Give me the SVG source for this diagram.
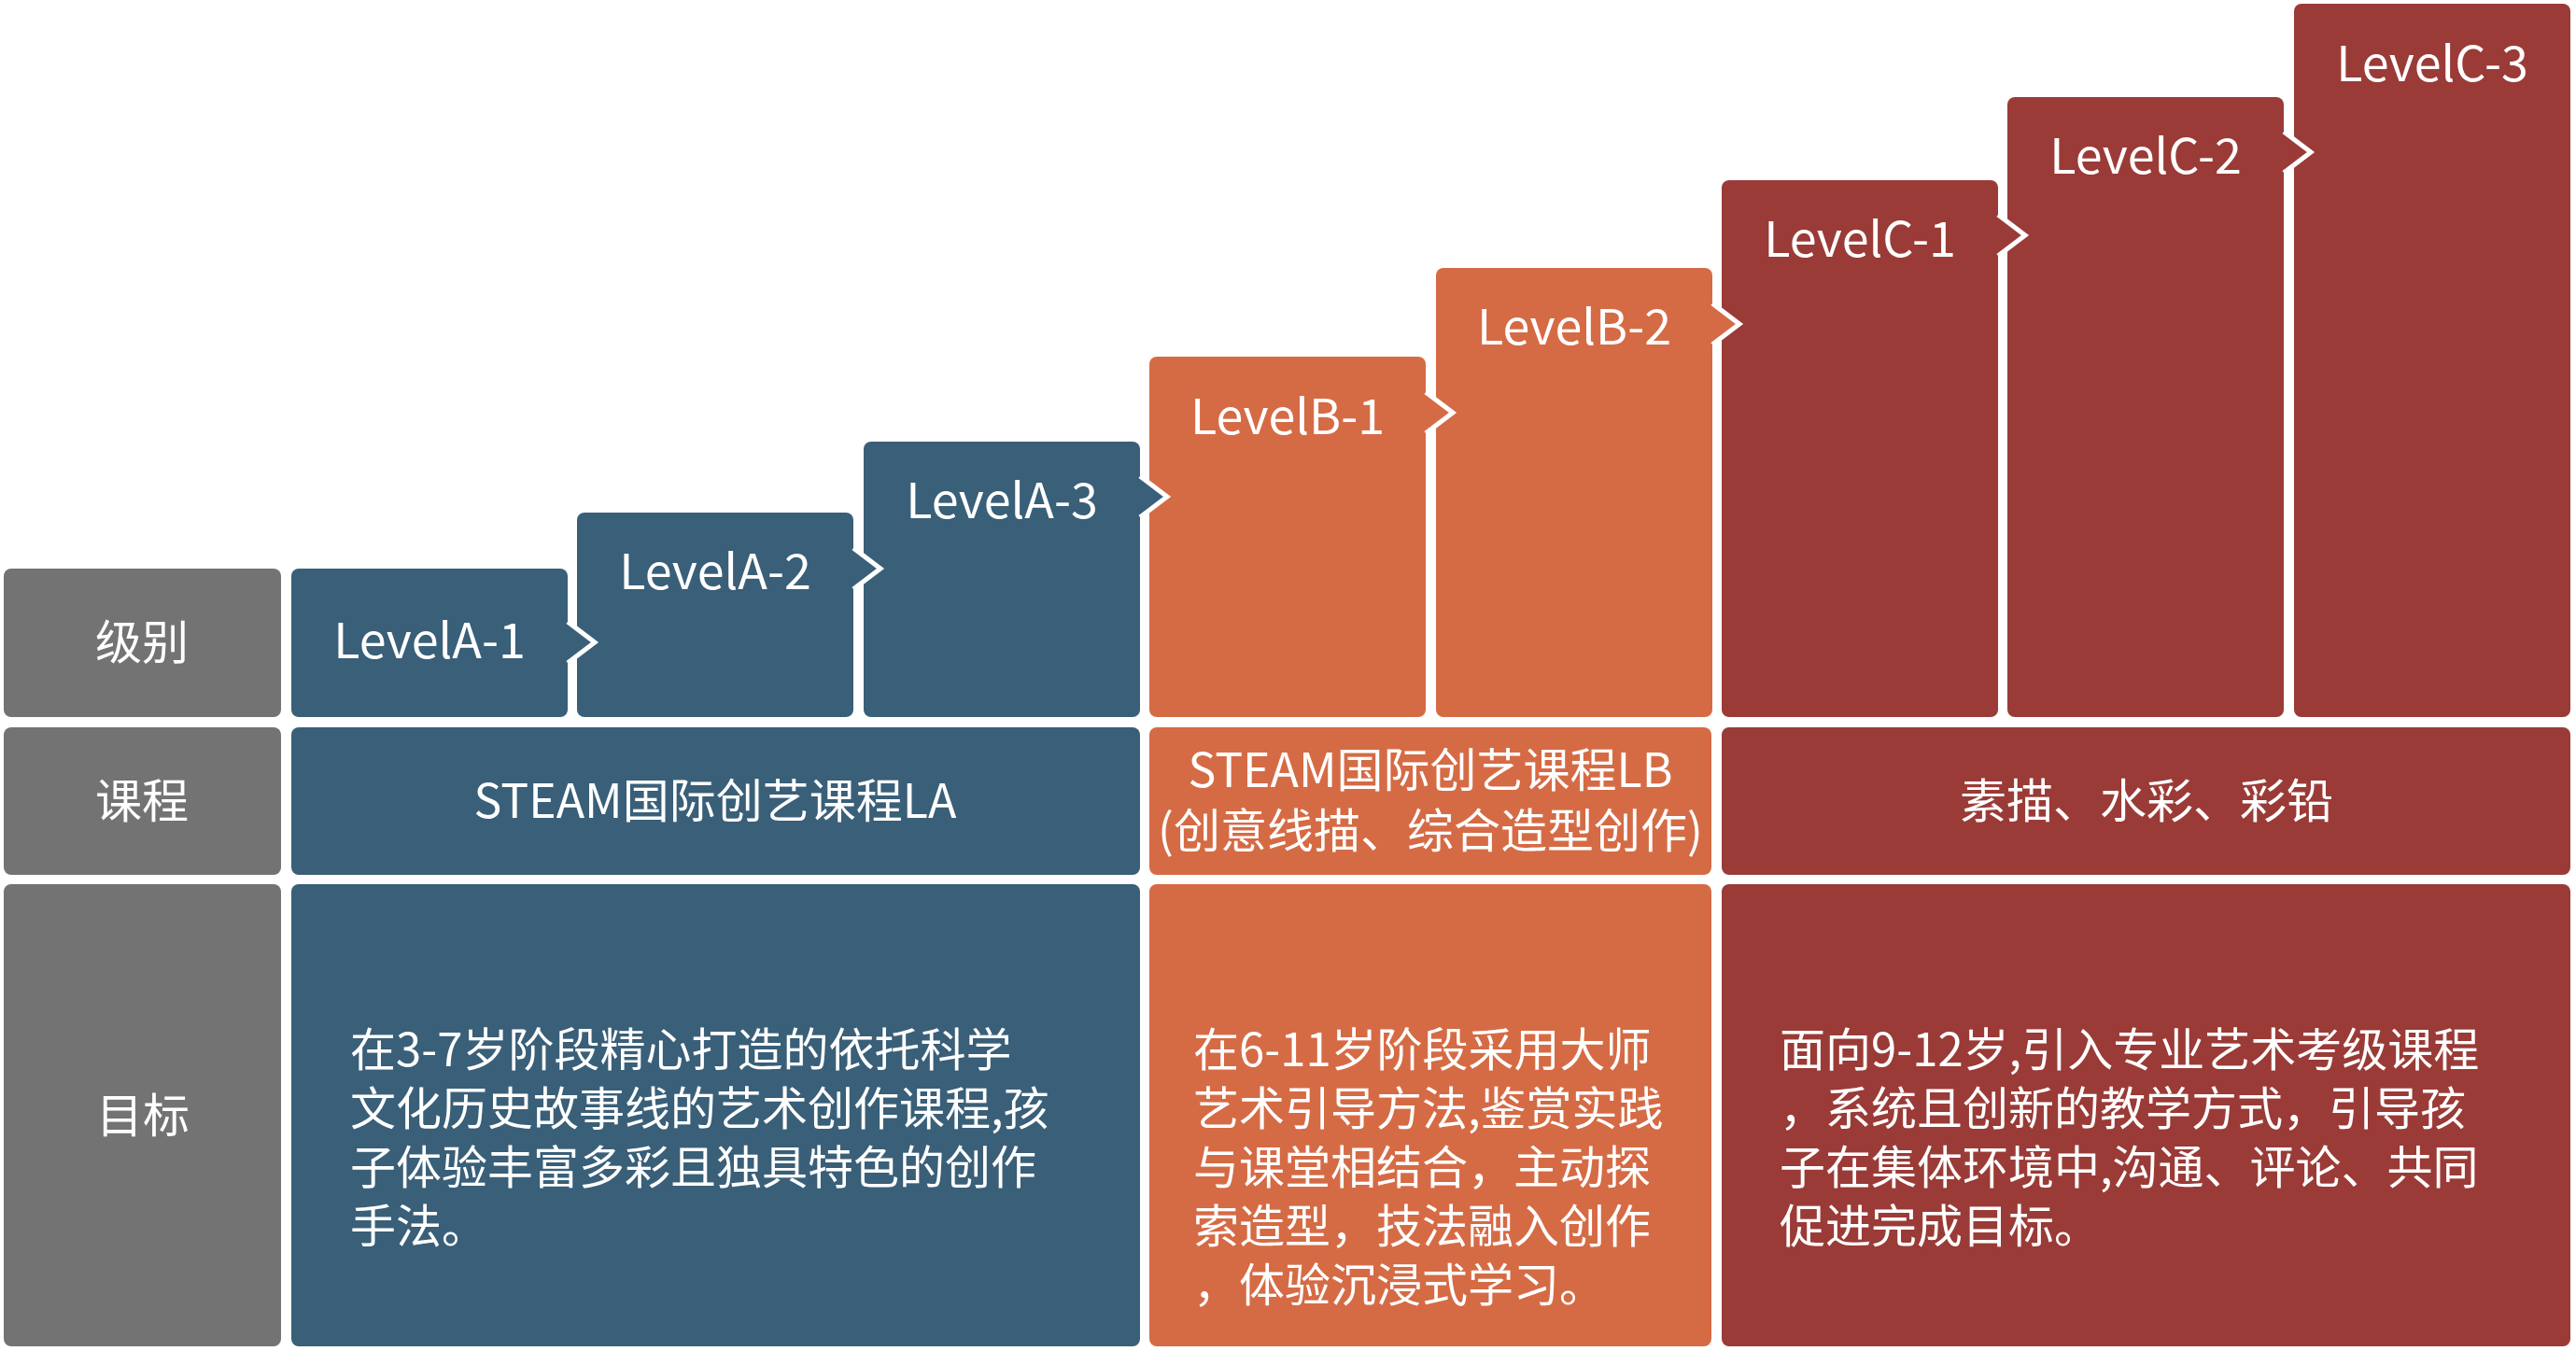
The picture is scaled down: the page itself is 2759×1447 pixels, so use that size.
<svg xmlns="http://www.w3.org/2000/svg" width="2759" height="1447" viewBox="0 0 2759 1447">
<style>
text{font-family:"Noto Sans CJK SC","Noto Sans",sans-serif;fill:#fff}
.g{fill:#737373}.b{fill:#3A5F78}.o{fill:#D56B45}.r{fill:#9A3B37}
.lv{font-size:52px;text-anchor:middle}
.hd{font-size:50px;text-anchor:middle}
.cs{font-size:50px;text-anchor:middle}
.gl{font-size:49px}
.chev{stroke:#fff;stroke-width:5;fill:none;stroke-linejoin:miter}
</style>
<rect width="2759" height="1447" fill="#fff"/>
<g id="header-level"><rect class="g" x="4" y="609" width="297" height="159" rx="8"/><text class="hd" x="152" y="706">级别</text></g>
<g id="header-course"><rect class="g" x="4" y="779" width="297" height="158" rx="8"/><text class="hd" x="152" y="876">课程</text></g>
<g id="header-goal"><rect class="g" x="4" y="947" width="297" height="495" rx="8"/><text class="hd" x="153" y="1213">目标</text></g>

<g id="levelC-3"><rect class="r" x="2457" y="4" width="296" height="764" rx="8"/><text class="lv" x="2605" y="87">LevelC-3</text></g>
<g id="levelC-2"><rect class="r" x="2150" y="104" width="296" height="664" rx="8"/><text class="lv" x="2298" y="186">LevelC-2</text></g>
<g id="levelC-1"><rect class="r" x="1844" y="193" width="296" height="575" rx="8"/><text class="lv" x="1992" y="275">LevelC-1</text></g>
<g id="levelB-2"><rect class="o" x="1538" y="287" width="296" height="481" rx="8"/><text class="lv" x="1686" y="369">LevelB-2</text></g>
<g id="levelB-1"><rect class="o" x="1231" y="382" width="296" height="386" rx="8"/><text class="lv" x="1379" y="465">LevelB-1</text></g>
<g id="levelA-3"><rect class="b" x="925" y="473" width="296" height="295" rx="8"/><text class="lv" x="1073" y="555">LevelA-3</text></g>
<g id="levelA-2"><rect class="b" x="618" y="549" width="296" height="219" rx="8"/><text class="lv" x="766" y="631">LevelA-2</text></g>
<g id="levelA-1"><rect class="b" x="312" y="609" width="296" height="159" rx="8"/><text class="lv" x="460" y="705">LevelA-1</text></g>

<g id="course-A"><rect class="b" x="312" y="779" width="909" height="158" rx="8"/><text class="cs" x="766" y="876">STEAM国际创艺课程LA</text></g>
<g id="course-B"><rect class="o" x="1231" y="779" width="602" height="158" rx="8"/><text class="cs" x="1532" y="843">STEAM国际创艺课程LB</text><text class="cs" x="1532" y="908">(创意线描、综合造型创作)</text></g>
<g id="course-C"><rect class="r" x="1844" y="779" width="909" height="158" rx="8"/><text class="cs" x="2299" y="876">素描、水彩、彩铅</text></g>

<g id="goal-A"><rect class="b" x="312" y="947" width="909" height="495" rx="8"/>
<text class="gl"><tspan x="375" y="1142">在3-7岁阶段精心打造的依托科学</tspan><tspan x="375" y="1205">文化历史故事线的艺术创作课程,孩</tspan><tspan x="375" y="1268">子体验丰富多彩且独具特色的创作</tspan><tspan x="375" y="1331">手法。</tspan></text></g>
<g id="goal-B"><rect class="o" x="1231" y="947" width="602" height="495" rx="8"/>
<text class="gl"><tspan x="1278" y="1142">在6-11岁阶段采用大师</tspan><tspan x="1278" y="1205">艺术引导方法,鉴赏实践</tspan><tspan x="1278" y="1268">与课堂相结合，主动探</tspan><tspan x="1278" y="1331">索造型，技法融入创作</tspan><tspan x="1278" y="1394">，体验沉浸式学习。</tspan></text></g>
<g id="goal-C"><rect class="r" x="1844" y="947" width="909" height="495" rx="8"/>
<text class="gl"><tspan x="1906" y="1142">面向9-12岁,引入专业艺术考级课程</tspan><tspan x="1906" y="1205">，系统且创新的教学方式，引导孩</tspan><tspan x="1906" y="1268">子在集体环境中,沟通、评论、共同</tspan><tspan x="1906" y="1331">促进完成目标。</tspan></text></g>

<g id="connectors">
<polygon class="b" points="606,666 608,666 637,688 608,710 606,710"/><polyline class="chev" points="608,666 637,688 608,710"/>
<polygon class="b" points="912,587 914,587 943,609 914,631 912,631"/><polyline class="chev" points="914,587 943,609 914,631"/>
<polygon class="b" points="1219,510 1221,510 1250,532 1221,554 1219,554"/><polyline class="chev" points="1221,510 1250,532 1221,554"/>
<polygon class="o" points="1525,420 1527,420 1556,442 1527,464 1525,464"/><polyline class="chev" points="1527,420 1556,442 1527,464"/>
<polygon class="o" points="1832,325 1834,325 1863,347 1834,369 1832,369"/><polyline class="chev" points="1834,325 1863,347 1834,369"/>
<polygon class="r" points="2138,230 2140,230 2169,252 2140,274 2138,274"/><polyline class="chev" points="2140,230 2169,252 2140,274"/>
<polygon class="r" points="2444,141 2446,141 2475,163 2446,185 2444,185"/><polyline class="chev" points="2446,141 2475,163 2446,185"/>
</g>
</svg>
